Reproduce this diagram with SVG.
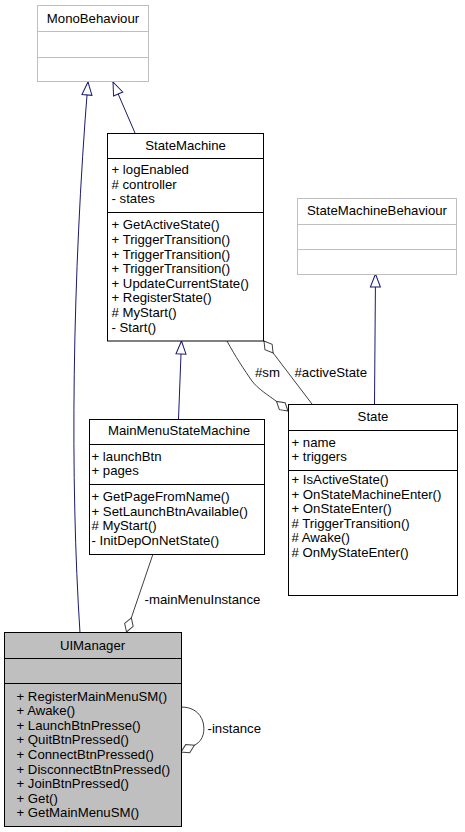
<svg xmlns="http://www.w3.org/2000/svg" width="465" height="832" viewBox="0 0 465 832">
<style>
text{font-family:"Liberation Sans",Arial,sans-serif;font-size:13.2px;fill:#000}
.h{text-anchor:middle}
.box{fill:#fff;stroke:#000;stroke-width:1}
.ext{fill:#fff;stroke:#bfbfbf;stroke-width:1}
.sel{fill:#bfbfbf;stroke:#000;stroke-width:1}
.dv{stroke:#000;stroke-width:1}
.dvx{stroke:#bfbfbf;stroke-width:1}
.gen{fill:none;stroke:#191970;stroke-width:1}
.agg{fill:none;stroke:#404040;stroke-width:1}
</style>
<defs>
<marker id="tri" markerUnits="userSpaceOnUse" markerWidth="16" markerHeight="12" refX="13" refY="5" orient="auto" overflow="visible"><path d="M0,0 L13,5 L0,10 Z" fill="#fff" stroke="#191970" stroke-width="1"/></marker>
<marker id="dia" markerUnits="userSpaceOnUse" markerWidth="16" markerHeight="10" refX="0" refY="0" orient="auto" overflow="visible"><path d="M0,0 L7.5,-4.5 L15,0 L7.5,4.5 Z" fill="#fff" stroke="#404040" stroke-width="1"/></marker>
</defs>

<g id="edges">
<path class="gen" d="M80,633 C70,480 72,280 88,82" marker-end="url(#tri)"/>
<path class="gen" d="M135,133 L113,82" marker-end="url(#tri)"/>
<path class="gen" d="M178.5,419 L181.5,341" marker-end="url(#tri)"/>
<path class="gen" d="M374.5,404 L375.5,274" marker-end="url(#tri)"/>
<path class="agg" d="M288,411 L276,401 C268,395 258,389 252,381 C245,371 235,356 227,341" marker-start="url(#dia)"/>
<path class="agg" d="M264,341 L312,404" marker-start="url(#dia)"/>
<path class="agg" d="M126.5,632 L153,554" marker-start="url(#dia)"/>
<path class="agg" d="M181,752 L195,745 C204,740 205,730 203,722 C200,712 192,707 181,707" marker-start="url(#dia)"/>
<text x="255" y="377">#sm</text>
<text x="294.5" y="377">#activeState</text>
<text x="144.5" y="603.5">-mainMenuInstance</text>
<text x="207.5" y="733">-instance</text>
</g>

<g id="MonoBehaviour">
<rect class="ext" x="37.5" y="5.5" width="111" height="76"/>
<line class="dvx" x1="37.5" y1="31.5" x2="148.5" y2="31.5"/>
<line class="dvx" x1="37.5" y1="57.5" x2="148.5" y2="57.5"/>
<text class="h" x="93" y="22.5">MonoBehaviour</text>
</g>

<g id="StateMachine">
<rect class="box" x="107.5" y="133.5" width="156" height="207.5"/>
<line class="dv" x1="107.5" y1="158.5" x2="263.5" y2="158.5"/>
<line class="dv" x1="107.5" y1="212.5" x2="263.5" y2="212.5"/>
<text class="h" x="185.5" y="149.5">StateMachine</text>
<text x="111.5" y="174">+ logEnabled</text>
<text x="111.5" y="188.6"># controller</text>
<text x="111.5" y="203.2">- states</text>
<text x="111.5" y="229.4">+ GetActiveState()</text>
<text x="111.5" y="244">+ TriggerTransition()</text>
<text x="111.5" y="258.6">+ TriggerTransition()</text>
<text x="111.5" y="273.2">+ TriggerTransition()</text>
<text x="111.5" y="287.8">+ UpdateCurrentState()</text>
<text x="111.5" y="302.4">+ RegisterState()</text>
<text x="111.5" y="317"># MyStart()</text>
<text x="111.5" y="331.6">- Start()</text>
</g>

<g id="StateMachineBehaviour">
<rect class="ext" x="297.5" y="198.5" width="159" height="76"/>
<line class="dvx" x1="297.5" y1="224.5" x2="456.5" y2="224.5"/>
<line class="dvx" x1="297.5" y1="249.5" x2="456.5" y2="249.5"/>
<text class="h" x="377" y="215">StateMachineBehaviour</text>
</g>

<g id="State">
<rect class="box" x="288.5" y="404.5" width="169" height="191"/>
<line class="dv" x1="288.5" y1="430.5" x2="457.5" y2="430.5"/>
<line class="dv" x1="288.5" y1="470.5" x2="457.5" y2="470.5"/>
<text class="h" x="373" y="421">State</text>
<text x="291.5" y="446.7">+ name</text>
<text x="291.5" y="461.3">+ triggers</text>
<text x="291.5" y="484">+ IsActiveState()</text>
<text x="291.5" y="498.6">+ OnStateMachineEnter()</text>
<text x="291.5" y="513.2">+ OnStateEnter()</text>
<text x="291.5" y="527.8"># TriggerTransition()</text>
<text x="291.5" y="542.4"># Awake()</text>
<text x="291.5" y="557"># OnMyStateEnter()</text>
</g>

<g id="MainMenuStateMachine">
<rect class="box" x="89.5" y="419.5" width="175" height="135"/>
<line class="dv" x1="89.5" y1="444.5" x2="264.5" y2="444.5"/>
<line class="dv" x1="89.5" y1="484.5" x2="264.5" y2="484.5"/>
<text class="h" x="179" y="435">MainMenuStateMachine</text>
<text x="91.5" y="460.7">+ launchBtn</text>
<text x="91.5" y="475.3">+ pages</text>
<text x="91.5" y="501">+ GetPageFromName()</text>
<text x="91.5" y="515.6">+ SetLaunchBtnAvailable()</text>
<text x="91.5" y="530.2"># MyStart()</text>
<text x="91.5" y="544.8">- InitDepOnNetState()</text>
</g>

<g id="UIManager">
<rect class="sel" x="4.5" y="632.5" width="177" height="194"/>
<line class="dv" x1="4.5" y1="658.5" x2="181.5" y2="658.5"/>
<line class="dv" x1="4.5" y1="683.5" x2="181.5" y2="683.5"/>
<text class="h" x="92.5" y="649.5">UIManager</text>
<text x="16.5" y="700.6">+ RegisterMainMenuSM()</text>
<text x="16.5" y="715.2">+ Awake()</text>
<text x="16.5" y="729.8">+ LaunchBtnPresse()</text>
<text x="16.5" y="744.4">+ QuitBtnPressed()</text>
<text x="16.5" y="759">+ ConnectBtnPressed()</text>
<text x="16.5" y="773.6">+ DisconnectBtnPressed()</text>
<text x="16.5" y="788.2">+ JoinBtnPressed()</text>
<text x="16.5" y="802.8">+ Get()</text>
<text x="16.5" y="817.4">+ GetMainMenuSM()</text>
</g>
</svg>
